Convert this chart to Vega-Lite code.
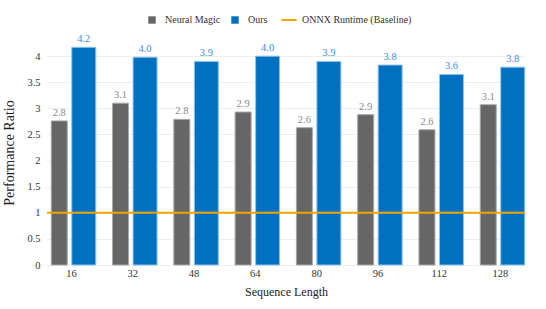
{
  "$schema": "https://vega.github.io/schema/vega-lite/v6.json",
  "width": 478,
  "height": 225,
  "autosize": {"type": "none"},
  "padding": {"left": 47, "top": 40, "right": 21, "bottom": 44},
  "config": {
    "view": {"stroke": null},
    "font": "Liberation Serif"
  },
  "datasets": {
    "bars": [
      {"len": "16", "series": "Neural Magic", "value": 2.76},
      {"len": "16", "series": "Ours", "value": 4.17},
      {"len": "32", "series": "Neural Magic", "value": 3.10},
      {"len": "32", "series": "Ours", "value": 3.98},
      {"len": "48", "series": "Neural Magic", "value": 2.79},
      {"len": "48", "series": "Ours", "value": 3.90},
      {"len": "64", "series": "Neural Magic", "value": 2.93},
      {"len": "64", "series": "Ours", "value": 4.00},
      {"len": "80", "series": "Neural Magic", "value": 2.63},
      {"len": "80", "series": "Ours", "value": 3.90},
      {"len": "96", "series": "Neural Magic", "value": 2.88},
      {"len": "96", "series": "Ours", "value": 3.83},
      {"len": "112", "series": "Neural Magic", "value": 2.59},
      {"len": "112", "series": "Ours", "value": 3.65},
      {"len": "128", "series": "Neural Magic", "value": 3.07},
      {"len": "128", "series": "Ours", "value": 3.79}
    ],
    "baseline": [
      {"series": "ONNX Runtime (Baseline)", "value": 1}
    ]
  },
  "encoding": {
    "y": {
      "field": "value", "type": "quantitative",
      "scale": {"domain": [0, 4.31], "nice": false},
      "axis": {"title": "Performance Ratio", "values": [0, 0.5, 1, 1.5, 2, 2.5, 3, 3.5, 4], "format": "~g", "labelOverlap": false, "domain": false, "ticks": false, "gridColor": "#eeeeee", "labelFont": "Liberation Serif", "labelFontSize": 10.5, "labelColor": "#333", "labelPadding": 7, "titleFont": "Liberation Serif", "titleFontSize": 14, "titleFontWeight": "normal", "titleColor": "#222", "titlePadding": 10}
    }
  },
  "layer": [
    {
      "data": {"name": "bars"},
      "mark": {"type": "bar", "strokeWidth": 1},
      "encoding": {
        "x": {
          "field": "len", "type": "ordinal", "sort": null,
          "scale": {"paddingInner": 0.2, "paddingOuter": 0},
          "axis": {"title": "Sequence Length", "labelAngle": 0, "domain": false, "ticks": false, "labelFont": "Liberation Serif", "labelFontSize": 10.5, "labelColor": "#333", "labelPadding": 3, "titleFont": "Liberation Serif", "titleFontSize": 12, "titleFontWeight": "normal", "titleColor": "#222", "titlePadding": 8}
        },
        "xOffset": {"field": "series", "type": "nominal", "sort": ["Neural Magic", "Ours"], "scale": {"paddingInner": 0, "paddingOuter": 0}},
        "color": {
          "field": "series", "type": "nominal",
          "scale": {"domain": ["Neural Magic", "Ours", "ONNX Runtime (Baseline)"], "range": ["#666666", "#0070c0", "#f5a300"]},
          "legend": {
            "title": null, "orient": "none", "direction": "horizontal", "legendX": 100, "legendY": -25,
            "labelFont": "Liberation Serif", "labelFontSize": 10, "labelColor": "#333", "symbolSize": 55, "columnPadding": 9, "labelOffset": 8,
            "encode": {
              "symbols": {
                "update": {
                  "shape": {"signal": "datum.value === 'ONNX Runtime (Baseline)' ? 'stroke' : 'square'"},
                  "size": {"signal": "datum.value === 'ONNX Runtime (Baseline)' ? 225 : 55"},
                  "stroke": {"signal": "scale('color', datum.value)"},
                  "strokeWidth": {"signal": "datum.value === 'ONNX Runtime (Baseline)' ? 2 : 0"}
                }
              }
            }
          }
        },
        "stroke": {
          "field": "series", "type": "nominal",
          "scale": {"domain": ["Neural Magic", "Ours"], "range": ["#a8a8a8", "#8ec3ee"]},
          "legend": null
        },
        "size": {
          "field": "series", "type": "ordinal",
          "scale": {"domain": ["Neural Magic", "Ours"], "range": [16, 24]},
          "legend": null
        }
      }
    },
    {
      "data": {"name": "bars"},
      "mark": {"type": "text", "baseline": "bottom", "dy": -3, "fontSize": 10.5, "font": "Liberation Serif"},
      "encoding": {
        "x": {"field": "len", "type": "ordinal", "sort": null},
        "xOffset": {"field": "series", "type": "nominal", "sort": ["Neural Magic", "Ours"]},
        "text": {"field": "value", "type": "quantitative", "format": ".1f"},
        "fill": {
          "field": "series", "type": "nominal",
          "scale": {"domain": ["Neural Magic", "Ours"], "range": ["#8a8a8a", "#3c8ddc"]},
          "legend": null
        }
      }
    },
    {
      "data": {"name": "baseline"},
      "mark": {"type": "rule", "strokeWidth": 2},
      "encoding": {
        "color": {"field": "series", "type": "nominal"}
      }
    }
  ]
}
